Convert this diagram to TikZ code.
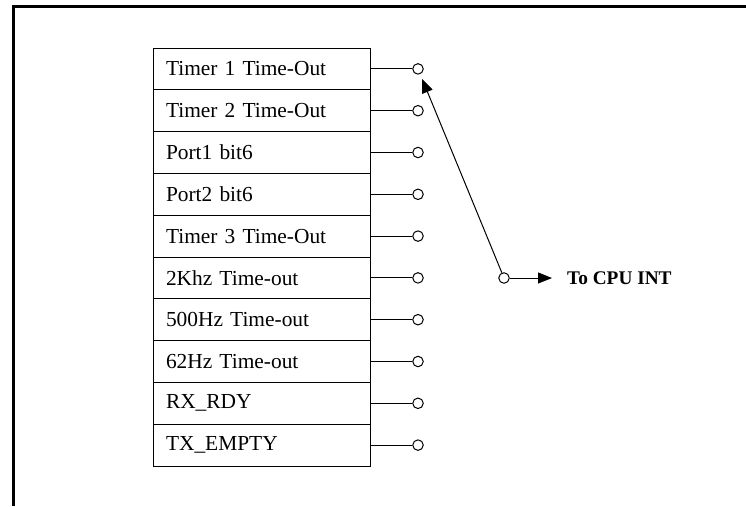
\documentclass[tikz,border=0pt]{standalone}
\usepackage{fontspec}
\setmainfont{Liberation Serif}
\usetikzlibrary{arrows.meta}

\tikzset{
	srcbox/.style={draw, line width=1pt, minimum height=41.8pt, inner ysep=0pt,
		inner xsep=13pt, text width=191pt, align=left,
		font=\fontsize{21.4}{24}\selectfont},
	pinc/.style={draw, circle, line width=1pt, minimum size=10.5pt, inner sep=0pt, fill=white},
	wire/.style={line width=1pt},
	tip/.style={-{Triangle[length=14pt,width=11pt]}}
}

\begin{document}
\begin{tikzpicture}[x=1pt,y=-1pt]
	\useasboundingbox (0,0) rectangle (746,506);
	% frame
	\draw[line width=3.3pt] (13.3,506) -- (13.3,6.6) -- (746,6.6);

	% interrupt sources
	\foreach \lab [count=\i] in {Timer 1 Time-Out, Timer 2 Time-Out, Port1 bit6,
		Port2 bit6, Timer 3 Time-Out, 2Khz Time-out, 500Hz Time-out,
		62Hz Time-out, RX\_RDY, TX\_EMPTY} {
		\node[srcbox] (r\i) at (261.5,{68.9+41.8*(\i-1)}) {\lab};
		\node[pinc] (c\i) at (418,{68.9+41.8*(\i-1)}) {};
		\draw[wire] (r\i.east) -- (c\i.west);
	}

	\node[pinc] (cpu) at (504,278) {};
	\node[anchor=west, inner sep=0pt, font=\fontsize{19.3}{22}\selectfont\bfseries] (out) at (567,278) {To CPU INT};

	\draw[wire, tip, shorten >=5pt] (cpu) -- (c1);
	\draw[wire, tip, shorten >=15pt] (cpu.east) -- (out.west);
\end{tikzpicture}
\end{document}
